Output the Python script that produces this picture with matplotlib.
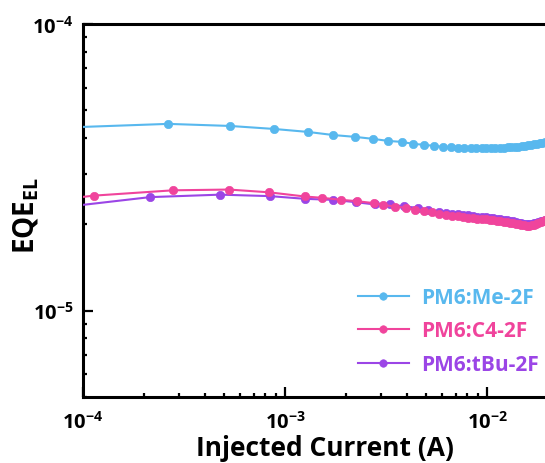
import numpy as np
import matplotlib
matplotlib.use("Agg")
import matplotlib.pyplot as plt

plt.rcParams["font.family"] = ["Open Sans", "DejaVu Sans"]
plt.rcParams["font.weight"] = "bold"
plt.rcParams["mathtext.fontset"] = "custom"
plt.rcParams["mathtext.rm"] = "Open Sans:bold"
plt.rcParams["mathtext.bf"] = "Open Sans:bold"
plt.rcParams["mathtext.it"] = "Open Sans:bold"

# --- data ---
labels = ["PM6:Me-2F", "PM6:C4-2F", "PM6:tBu-2F"]
colors = ["#58b8ee", "#f0449c", "#9b45e6"]

tail_i = [5.8e-3, 6.25e-3, 6.7e-3, 7.15e-3, 7.6e-3, 8.05e-3, 8.5e-3, 8.95e-3, 9.4e-3, 9.85e-3,
          10.3e-3, 10.75e-3, 11.2e-3, 11.65e-3, 12.1e-3, 12.55e-3, 13.0e-3, 13.45e-3, 13.9e-3,
          14.35e-3, 14.8e-3, 15.25e-3, 15.7e-3, 16.15e-3, 16.6e-3, 17.05e-3, 17.5e-3, 17.95e-3,
          18.4e-3, 18.85e-3, 19.3e-3]

me_i = [1.0e-4, 2.64e-4, 5.34e-4, 8.82e-4, 1.30e-3, 1.73e-3, 2.22e-3, 2.73e-3, 3.24e-3, 3.79e-3,
        4.30e-3, 4.88e-3, 5.47e-3, 6.06e-3, 6.6e-3, 7.2e-3, 7.7e-3, 8.3e-3, 8.8e-3, 9.4e-3, 9.9e-3,
        10.5e-3, 11.0e-3, 11.6e-3, 12.1e-3, 12.7e-3, 13.2e-3, 13.8e-3, 14.3e-3, 14.9e-3, 15.4e-3,
        16.0e-3, 16.5e-3, 17.1e-3, 17.6e-3, 18.2e-3, 18.7e-3, 19.3e-3]
me_eqe = [4.376e-5, 4.484e-5, 4.41e-5, 4.305e-5, 4.203e-5, 4.10e-5, 4.04e-5, 3.975e-5, 3.91e-5, 3.88e-5,
          3.82e-5, 3.79e-5, 3.757e-5, 3.727e-5, 3.71e-5, 3.70e-5, 3.70e-5, 3.69e-5, 3.69e-5, 3.69e-5, 3.69e-5,
          3.69e-5, 3.69e-5, 3.70e-5, 3.70e-5, 3.71e-5, 3.71e-5, 3.72e-5, 3.73e-5, 3.74e-5, 3.75e-5,
          3.77e-5, 3.78e-5, 3.80e-5, 3.82e-5, 3.84e-5, 3.86e-5, 3.88e-5]

c4_i = [1.0e-4, 1.133e-4, 2.79e-4, 5.28e-4, 8.33e-4, 1.25e-3, 1.525e-3, 1.9e-3, 2.27e-3, 2.76e-3,
        3.06e-3, 3.5e-3, 3.98e-3, 4.40e-3, 4.9e-3, 5.35e-3] + tail_i
c4_eqe = [2.495e-5, 2.52e-5, 2.63e-5, 2.646e-5, 2.588e-5, 2.503e-5, 2.476e-5, 2.436e-5, 2.41e-5, 2.372e-5,
          2.34e-5, 2.309e-5, 2.285e-5, 2.248e-5, 2.236e-5, 2.205e-5,
          2.178e-5, 2.16e-5, 2.147e-5, 2.135e-5, 2.123e-5, 2.113e-5, 2.105e-5, 2.096e-5, 2.09e-5, 2.083e-5,
          2.075e-5, 2.067e-5, 2.059e-5, 2.051e-5, 2.043e-5, 2.035e-5, 2.027e-5, 2.018e-5, 2.008e-5,
          2.0e-5, 1.992e-5, 1.986e-5, 1.981e-5, 1.981e-5, 1.989e-5, 1.997e-5, 2.013e-5, 2.029e-5,
          2.045e-5, 2.062e-5, 2.07e-5]

tbu_i = [1.0e-4, 2.146e-4, 4.77e-4, 8.43e-4, 1.256e-3, 1.73e-3, 2.25e-3, 2.79e-3, 3.31e-3, 3.9e-3,
         4.55e-3, 5.1e-3] + tail_i
tbu_eqe = [2.34e-5, 2.49e-5, 2.54e-5, 2.51e-5, 2.456e-5, 2.436e-5, 2.39e-5, 2.347e-5, 2.347e-5, 2.31e-5,
           2.285e-5, 2.25e-5,
           2.21e-5, 2.195e-5, 2.18e-5, 2.17e-5, 2.16e-5, 2.15e-5, 2.14e-5, 2.13e-5, 2.125e-5, 2.118e-5,
           2.11e-5, 2.10e-5, 2.093e-5, 2.085e-5, 2.077e-5, 2.068e-5, 2.06e-5, 2.05e-5, 2.04e-5,
           2.03e-5, 2.02e-5, 2.013e-5, 2.008e-5, 2.005e-5, 2.01e-5, 2.02e-5, 2.03e-5, 2.04e-5,
           2.05e-5, 2.063e-5, 2.07e-5]

series = [(me_i, me_eqe), (c4_i, c4_eqe), (tbu_i, tbu_eqe)]

fig = plt.figure(figsize=(5.45, 4.64), dpi=100)
ax = fig.add_axes([0.1523, 0.1422, 0.8477, 0.8039])

# purple first so pink sits on top, as in the figure; the 1e-4 start point has no marker
for k in [2, 1, 0]:
    x, y = series[k]
    ax.plot(x, y, "-", color=colors[k], lw=1.5, marker="o", ms=6,
            markevery=slice(1, None), mfc=colors[k], mec=colors[k], mew=0.5,
            label=labels[k], zorder=3 + (k == 1))

ax.set_xscale("log"); ax.set_yscale("log")
ax.set_xlim(1e-4, 1.936e-2)
ax.set_ylim(5e-6, 1e-4)

ax.set_xticks([1e-4, 1e-3, 1e-2])
ax.set_xticklabels([r"$\mathbf{10^{-4}}$", r"$\mathbf{10^{-3}}$", r"$\mathbf{10^{-2}}$"])
ax.set_yticks([1e-5, 1e-4])
ax.set_yticklabels([r"$\mathbf{10^{-5}}$", r"$\mathbf{10^{-4}}$"])
ax.tick_params(which="major", direction="in", length=7, width=1.6, labelsize=14.5)
ax.tick_params(which="minor", direction="in", length=3.2, width=1.6)
ax.tick_params(axis="x", which="major", pad=10)
ax.tick_params(axis="y", which="major", pad=7)

for s in ["left", "bottom", "top"]:
    ax.spines[s].set_linewidth(2.2)
ax.spines["right"].set_visible(False)

ax.set_xlabel("Injected Current (A)", fontsize=19, fontweight="bold")
ax.xaxis.set_label_coords(0.524, -0.1)
ax.set_ylabel(r"EQE$_{\mathbf{EL}}$", fontsize=20, fontweight="bold")
ax.yaxis.set_label_coords(-0.09, 0.49)

h, l = ax.get_legend_handles_labels()
order = [2, 1, 0]
leg = ax.legend([h[i] for i in order], [l[i] for i in order], loc="upper left",
                bbox_to_anchor=(0.595, 0.295), frameon=False, fontsize=15,
                borderpad=0, borderaxespad=0,
                handlelength=2.45, handletextpad=0.6, labelspacing=0.6, markerscale=0.9)
for t, c in zip(leg.get_texts(), colors):
    t.set_color(c); t.set_fontweight("bold")

fig.savefig("out.png", dpi=100)
